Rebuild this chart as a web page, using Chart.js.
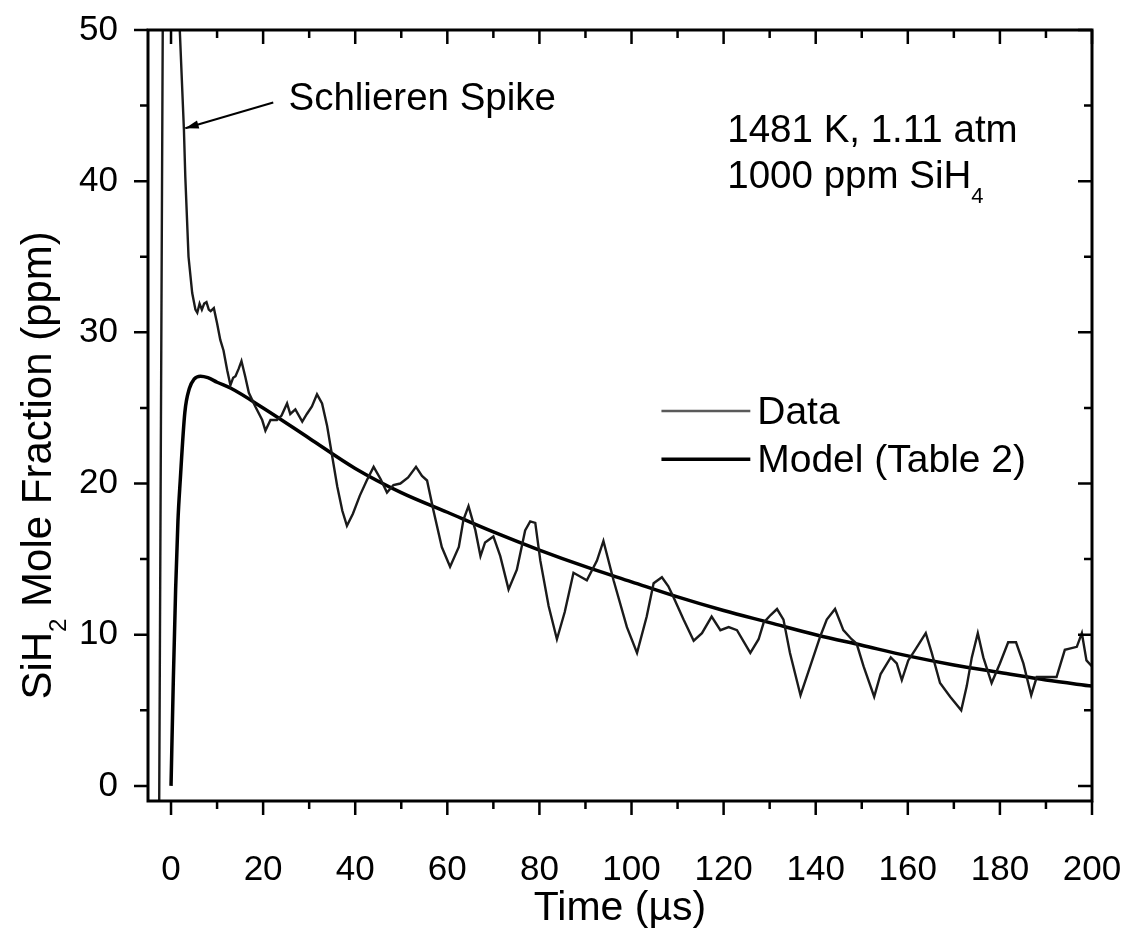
<!DOCTYPE html>
<html lang="en">
<head>
<meta charset="UTF-8" />
<title>SiH2 Mole Fraction vs Time</title>
<script src="https://cdn.jsdelivr.net/npm/chart.js"></script>
<style>
  html, body { margin: 0; padding: 0; background: #fff; }
  #wrap { width: 1130px; height: 931px; }
</style>
</head>
<body>
<div id="wrap"><canvas id="chart" width="1130" height="931"></canvas></div>
<script>
const dataTime = [
  -2.7, -1.8, -0.8, 0.5, 1.9, 2.8, 3.1, 3.8, 4.6, 5.3, 5.7, 6.2, 6.7, 7.2, 7.7, 8.2, 8.6, 9.3,
  10.0, 10.7, 11.4, 12.2, 12.9, 13.5, 14.0, 14.7, 15.3, 16.1, 16.9, 18.3, 19.8, 20.5, 21.6, 23.0,
  24.0, 25.2, 25.9, 27.0, 28.5, 29.5, 30.6, 31.7, 32.8, 33.9, 35.0, 36.1, 37.2, 38.2, 39.5, 41.0,
  42.5, 44.0, 45.5, 46.9, 48.3, 49.8, 51.5, 53.2, 54.5, 55.6, 57.0, 58.8, 60.6, 62.5, 63.5, 64.6,
  66.1, 67.2, 68.2, 70.0, 71.5, 73.3, 75.1, 76.9, 78.0, 79.1, 80.2, 82.0, 83.8, 85.5, 87.4, 90.3,
  92.5, 93.9, 96.1, 99.0, 101.2, 103.3, 104.8, 106.6, 108.0, 109.1, 111.3, 113.5, 115.3, 117.4,
  119.3, 121.1, 122.9, 125.8, 127.6, 128.7, 130.2, 131.6, 133.0, 134.4, 136.7, 138.8, 141.0,
  142.4, 144.2, 146.0, 147.8, 148.9, 150.4, 152.7, 154.1, 156.3, 157.6, 158.7, 160.1, 161.6,
  163.9, 165.2, 167.0, 169.2, 171.6, 172.8, 173.9, 175.2, 176.4, 178.2, 180.0, 181.8, 183.5,
  185.1, 186.8, 188.0, 190.2, 192.3, 194.1, 196.7, 197.8, 198.8, 200.0
];
const dataPpm = [
  -10, 50, 95, 75, 50, 43.4, 40.3, 35.0, 32.6, 31.5, 31.3, 31.9, 31.5, 31.9, 32.0, 31.5, 31.4, 31.6,
  30.6, 29.5, 28.8, 27.5, 26.5, 27.0, 27.1, 27.6, 28.1, 27.1, 26.0, 25.1, 24.2, 23.5, 24.2, 24.2,
  24.5, 25.3, 24.6, 24.9, 24.1, 24.6, 25.1, 25.9, 25.3, 23.8, 21.8, 19.8, 18.2, 17.2, 18.0, 19.2,
  20.2, 21.1, 20.3, 19.4, 19.9, 20.0, 20.4, 21.1, 20.5, 20.2, 18.2, 15.8, 14.5, 15.8, 17.6, 18.5,
  16.9, 15.2, 16.1, 16.5, 15.2, 13.0, 14.3, 16.9, 17.5, 17.4, 14.9, 11.9, 9.7, 11.5, 14.1, 13.6,
  14.9, 16.2, 13.6, 10.5, 8.8, 11.2, 13.4, 13.8, 13.2, 12.5, 11.0, 9.6, 10.1, 11.2,
  10.3, 10.5, 10.3, 8.8, 9.7, 10.8, 11.3, 11.7, 11.0, 8.8, 6.0, 7.9, 9.9,
  11.0, 11.7, 10.3, 9.7, 9.4, 7.9, 5.9, 7.4, 8.5, 8.1, 7.0, 8.3, 9.0,
  10.1, 8.8, 6.8, 5.9, 5.0, 6.6, 8.5, 10.1, 8.5, 6.8, 8.1, 9.5, 9.5,
  8.1, 6.0, 7.2, 7.2, 7.2, 9.0, 9.2, 10.1, 8.3, 7.9
];

// model curve (Table 2)
const modelTime = [0, 0.5, 1, 1.5, 2, 3, 4, 5, 6.4, 8, 10, 13, 20, 30, 40, 50, 60, 70, 80, 90,
  100, 110, 120, 130, 140, 150, 160, 170, 180, 190, 200];
const modelPpm = [0, 7, 13, 17.5, 20.2, 24.7, 26.3, 26.9, 27.1, 27.0, 26.7, 26.3, 25.0, 23.0, 21.0,
  19.4, 18.1, 16.8, 15.6, 14.5, 13.5, 12.5, 11.6, 10.8, 10.0, 9.3, 8.6, 8.0, 7.5, 7.0, 6.6];

const xTicks = [0, 20, 40, 60, 80, 100, 120, 140, 160, 180, 200];
const xMinor = [10, 30, 50, 70, 90, 110, 130, 150, 170, 190];
const yTicks = [0, 10, 20, 30, 40, 50];
const yMinor = [5, 15, 25, 35, 45];

const seriesNames = ['Data', 'Model (Table 2)'];

const FONT = '"Liberation Sans", Arial, sans-serif';

const toPoints = (xs, ys) => xs.map((v, i) => ({ x: v, y: ys[i] }));

// frame, ticks on all four sides, annotations, legend and axis titles
const decorations = {
  id: 'decorations',
  afterDatasetsDraw(chart) {
    const { ctx, chartArea: a, scales: { x, y } } = chart;
    ctx.save();
    ctx.strokeStyle = '#000';
    ctx.fillStyle = '#000';

    // ticks
    ctx.lineWidth = 2.5;
    ctx.beginPath();
    const xt = (list, len) => list.forEach(v => {
      const px = x.getPixelForValue(v);
      ctx.moveTo(px, a.bottom); ctx.lineTo(px, a.bottom + len);
      ctx.moveTo(px, a.top); ctx.lineTo(px, a.top + len);
    });
    const yt = (list, len) => list.forEach(v => {
      const py = y.getPixelForValue(v);
      ctx.moveTo(a.left, py); ctx.lineTo(a.left - len, py);
      ctx.moveTo(a.right, py); ctx.lineTo(a.right - len, py);
    });
    xt(xTicks, 14); xt(xMinor, 8);
    yt(yTicks, 14); yt(yMinor, 8);
    ctx.stroke();

    // frame
    ctx.lineWidth = 3;
    ctx.strokeRect(a.left, a.top, a.right - a.left, a.bottom - a.top);

    // Schlieren spike label + arrow
    ctx.font = '38.5px ' + FONT;
    ctx.textBaseline = 'alphabetic';
    ctx.textAlign = 'left';
    ctx.fillText('Schlieren Spike', x.getPixelForValue(25.5), y.getPixelForValue(44.7));
    const tx = x.getPixelForValue(22.2), ty = y.getPixelForValue(45.2);
    const hx = x.getPixelForValue(3.1), hy = y.getPixelForValue(43.5);
    ctx.lineWidth = 2;
    ctx.beginPath(); ctx.moveTo(tx, ty); ctx.lineTo(hx, hy); ctx.stroke();
    const ang = Math.atan2(hy - ty, hx - tx);
    ctx.beginPath();
    ctx.moveTo(hx, hy);
    ctx.lineTo(hx - 14 * Math.cos(ang - 0.3), hy - 14 * Math.sin(ang - 0.3));
    ctx.lineTo(hx - 14 * Math.cos(ang + 0.3), hy - 14 * Math.sin(ang + 0.3));
    ctx.closePath(); ctx.fill();

    // conditions
    const cx = x.getPixelForValue(120.8);
    ctx.fillText('1481 K, 1.11 atm', cx, y.getPixelForValue(42.6));
    const b2 = y.getPixelForValue(39.55);
    ctx.fillText('1000 ppm SiH', cx, b2);
    const w = ctx.measureText('1000 ppm SiH').width;
    ctx.font = '22px ' + FONT;
    ctx.fillText('4', cx + w, b2 + 15);

    // legend
    ctx.font = '39px ' + FONT;
    ctx.textBaseline = 'middle';
    const lx0 = x.getPixelForValue(106.5), lx1 = x.getPixelForValue(125.8), ltx = x.getPixelForValue(127.3);
    const ly = [y.getPixelForValue(24.8), y.getPixelForValue(21.6)];
    const lineCol = ['#5a5a5a', '#000'];
    const lineW = [2.5, 3.5];
    seriesNames.forEach((name, i) => {
      ctx.strokeStyle = lineCol[i];
      ctx.lineWidth = lineW[i];
      ctx.beginPath(); ctx.moveTo(lx0, ly[i]); ctx.lineTo(lx1, ly[i]); ctx.stroke();
      ctx.fillText(name, ltx, ly[i] + 2);
    });

    // x title
    ctx.textBaseline = 'alphabetic';
    ctx.textAlign = 'center';
    ctx.font = '41px ' + FONT;
    ctx.fillText('Time (\u00b5s)', (a.left + a.right) / 2, a.bottom + 119);

    // y title with subscript
    ctx.translate(a.left - 97, y.getPixelForValue(21.2));
    ctx.rotate(-Math.PI / 2);
    ctx.textAlign = 'left';
    const big = '42px ' + FONT, small = '24px ' + FONT;
    ctx.font = big;
    const w1 = ctx.measureText('SiH').width;
    const w3 = ctx.measureText(' Mole Fraction (ppm)').width;
    ctx.font = small;
    const w2 = ctx.measureText('2').width;
    let sx = -(w1 + w2 + w3) / 2;
    ctx.font = big; ctx.fillText('SiH', sx, 0);
    ctx.font = small; ctx.fillText('2', sx + w1, 15);
    ctx.font = big; ctx.fillText(' Mole Fraction (ppm)', sx + w1 + w2, 0);
    ctx.restore();
  }
};

new Chart(document.getElementById('chart'), {
  type: 'scatter',
  data: {
    datasets: [
      {
        label: seriesNames[0],
        data: toPoints(dataTime, dataPpm),
        showLine: true,
        borderColor: '#1a1a1a',
        borderWidth: 2.4,
        pointRadius: 0,
        tension: 0
      },
      {
        label: seriesNames[1],
        data: toPoints(modelTime, modelPpm),
        showLine: true,
        borderColor: '#000',
        borderWidth: 3.5,
        pointRadius: 0,
        cubicInterpolationMode: 'monotone'
      }
    ]
  },
  options: {
    responsive: false,
    animation: false,
    devicePixelRatio: 1,
    layout: { padding: { top: 30, right: 38, left: 0, bottom: 0 } },
    plugins: { legend: { display: false }, tooltip: { enabled: false } },
    scales: {
      x: {
        type: 'linear',
        min: -5,
        max: 200,
        afterBuildTicks: s => { s.ticks = xTicks.map(v => ({ value: v })); },
        afterFit: s => { s.height = 130; s.paddingLeft = 0; s.paddingRight = 0; },
        grid: { display: false },
        border: { display: false },
        ticks: { color: '#000', font: { size: 35, family: FONT }, padding: 40, maxRotation: 0 }
      },
      y: {
        type: 'linear',
        min: -1,
        max: 50,
        afterBuildTicks: s => { s.ticks = yTicks.map(v => ({ value: v })); },
        afterFit: s => { s.width = 148; s.paddingTop = 0; s.paddingBottom = 0; },
        grid: { display: false },
        border: { display: false },
        ticks: { color: '#000', font: { size: 35, family: FONT }, padding: 22 }
      }
    }
  },
  plugins: [decorations]
});
</script>
</body>
</html>
